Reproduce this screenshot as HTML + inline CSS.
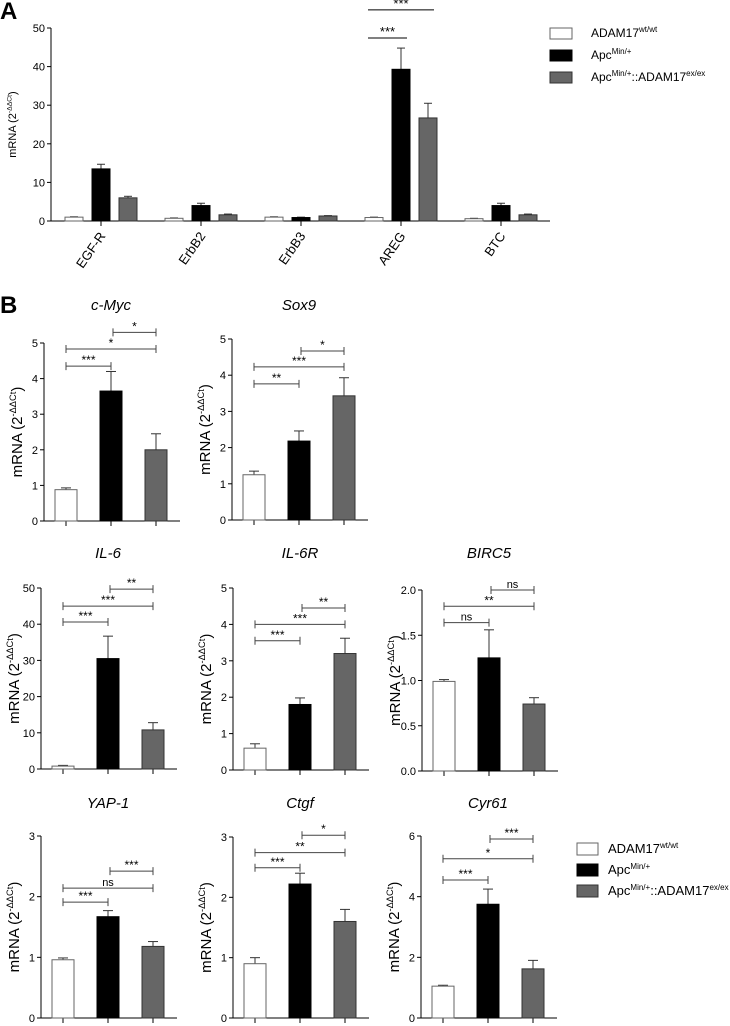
<!DOCTYPE html>
<html><head><meta charset="utf-8">
<style>
html,body{margin:0;padding:0;background:#fff;}
svg{display:block;font-family:"Liberation Sans",Arial,sans-serif;}
</style></head>
<body>
<svg id="fig" width="730" height="1026" viewBox="0 0 730 1026" xmlns="http://www.w3.org/2000/svg">
<text x="0" y="19" font-size="24" font-weight="bold">A</text>
<text x="0" y="313" font-size="24" font-weight="bold">B</text>
</svg>
<script>
// ---------- Panel A data ----------
const genesA = ["EGF-R","ErbB2","ErbB3","AREG","BTC"];
const wtA = [1.0, 0.7, 1.0, 0.9, 0.6];
const wtErrA = [0.1, 0.1, 0.1, 0.1, 0.1];
const minA = [13.5, 4.0, 0.9, 39.3, 4.0];
const minErrA = [1.2, 0.6, 0.1, 5.5, 0.6];
const koA = [6.0, 1.6, 1.3, 26.7, 1.6];
const koErrA = [0.4, 0.2, 0.1, 3.8, 0.2];
const ticksA = [0,10,20,30,40,50];
const sigA = [[3,0,1,47.4,"***"],[3,0,2,54.7,"***"]];

// ---------- Panel B data ----------
const titlesB = ["c-Myc","Sox9","IL-6","IL-6R","BIRC5","YAP-1","Ctgf","Cyr61"];
const valuesB = [[0.88,3.65,2.0],[1.25,2.18,3.43],[0.8,30.5,10.8],[0.6,1.8,3.2],[0.99,1.25,0.74],[0.96,1.67,1.18],[0.9,2.22,1.6],[1.05,3.75,1.62]];
const errorsB = [[0.05,0.55,0.45],[0.1,0.28,0.5],[0.2,6.2,2.0],[0.12,0.18,0.42],[0.02,0.31,0.07],[0.03,0.1,0.08],[0.1,0.18,0.2],[0.03,0.5,0.28]];
const ticksB = [[0,1,2,3,4,5],[0,1,2,3,4,5],[0,10,20,30,40,50],[0,1,2,3,4,5],[0,0.5,1,1.5,2],[0,1,2,3],[0,1,2,3],[0,2,4,6]];
const tickLabelsB = [["0","1","2","3","4","5"],["0","1","2","3","4","5"],["0","10","20","30","40","50"],["0","1","2","3","4","5"],["0.0","0.5","1.0","1.5","2.0"],["0","1","2","3"],["0","1","2","3"],["0","2","4","6"]];
const sigB = [
 [[0,1,4.35,"***"],[0,2,4.83,"*"],[1,2,5.3,"*"]],
 [[0,1,3.76,"**"],[0,2,4.23,"***"],[1,2,4.67,"*"]],
 [[0,1,40.6,"***"],[0,2,45,"***"],[1,2,49.7,"**"]],
 [[0,1,3.55,"***"],[0,2,4.0,"***"],[1,2,4.45,"**"]],
 [[0,1,1.64,"ns"],[0,2,1.82,"**"],[1,2,2.0,"ns"]],
 [[0,1,1.91,"***"],[0,2,2.14,"ns"],[1,2,2.42,"***"]],
 [[0,1,2.49,"***"],[0,2,2.74,"**"],[1,2,3.03,"*"]],
 [[0,1,4.55,"***"],[0,2,5.25,"*"],[1,2,5.9,"***"]]
];
const legendLabels = ["ADAM17","Apc","Apc"];
const legendSups = ["wt/wt","Min/+","Min/+"];

const NS="http://www.w3.org/2000/svg";
const svg=document.getElementById('fig');
const fills=["#ffffff","#000000","#666666"];
const strokes=["#666666","#000000","#333333"];
function mk(tag,attrs,parent){const e=document.createElementNS(NS,tag);for(const k in attrs)e.setAttribute(k,attrs[k]);(parent||svg).appendChild(e);return e;}

function yLabel(g,cx,cy,fs){
  const t=mk('text',{x:cx,y:cy,'font-size':fs,'text-anchor':'middle',transform:`rotate(-90 ${cx} ${cy})`},g);
  
  
  t.appendChild(document.createTextNode('mRNA (2'));
  const s=mk('tspan',{'font-size':fs*0.62,dy:-fs*0.4},t);s.textContent='-ΔΔCt';
  const s2=mk('tspan',{dy:fs*0.4},t);s2.textContent=')';
}

// ---------- Panel A ----------
(function(){
  const g=mk('g',{});
  
  
  const ax=51, x1=550, y0=221, yTop=28, ymax=50;
  const ys=v=>y0-(v/ymax)*(y0-yTop);
  const xc=i=>101+i*100;
  const off=[-27,0,27], bw=18;
  mk('line',{x1:ax,y1:yTop,x2:ax,y2:y0,stroke:'#000','stroke-width':1},g);
  mk('line',{x1:ax,y1:y0,x2:x1,y2:y0,stroke:'#000','stroke-width':1},g);
  ticksA.forEach(t=>{
    mk('line',{x1:ax-4,y1:ys(t),x2:ax,y2:ys(t),stroke:'#000'},g);
    const tl=mk('text',{x:ax-6,y:ys(t)+4,'font-size':11,'text-anchor':'end'},g);tl.textContent=t;
    
    
  });
  yLabel(g,16,(y0+yTop)/2,11);
  const series=[[wtA,wtErrA],[minA,minErrA],[koA,koErrA]];
  genesA.forEach((gn,i)=>{
    mk('line',{x1:xc(i),y1:y0,x2:xc(i),y2:y0+5,stroke:'#000'},g);
    const lx=xc(i)+5, ly=y0+15;
    const tl=mk('text',{x:lx,y:ly,'font-size':13,'text-anchor':'end',transform:`rotate(-55 ${lx} ${ly})`},g);tl.textContent=gn;
    
    
    series.forEach((s,k)=>{
      const v=s[0][i],e=s[1][i],cx=xc(i)+off[k];
      mk('line',{x1:cx,y1:ys(v),x2:cx,y2:ys(v+e),stroke:'#333'},g);
      mk('line',{x1:cx-4,y1:ys(v+e),x2:cx+4,y2:ys(v+e),stroke:'#333'},g);
      const r=mk('rect',{x:cx-bw/2,y:ys(v),width:bw,height:y0-ys(v),fill:fills[k],stroke:strokes[k],'stroke-width':1},g);
      
      
    });
  });
  sigA.forEach(s=>{
    const xa=xc(s[0])+off[s[1]]-6, xb=xc(s[0])+off[s[2]]+6, y=ys(s[3]);
    mk('line',{x1:xa,y1:y,x2:xb,y2:y,stroke:'#000'},g);
    const t=mk('text',{x:(xa+xb)/2,y:y-2,'font-size':13,'text-anchor':'middle'},g);t.textContent=s[4];
    
    
  });
  const lg=mk('g',{},g);
  
  
  [0,1,2].forEach(k=>{
    const y=28+k*22;
    mk('rect',{x:550,y:y,width:22,height:11,fill:fills[k],stroke:strokes[k]},lg);
    const t=mk('text',{x:591,y:y+9,'font-size':12},lg);
    
    
    t.appendChild(document.createTextNode(legendLabels[k]));
    const s=mk('tspan',{'font-size':8,dy:-5},t);s.textContent=legendSups[k];
    if(k===2){const a=mk('tspan',{dy:5},t);a.textContent='::ADAM17';const b=mk('tspan',{'font-size':8,dy:-5},t);b.textContent='ex/ex';}
  });
})();

// ---------- Panel B ----------
const layout=[[44,521,343],[232,520,339],[41,769,588],[233,770,588],[422,771,590],[41,1018,836],[233,1018,837],[421,1018,836]];
const titleY=[310,310,558,558,558,808,808,808];
titlesB.forEach((title,p)=>{
  const g=mk('g',{});
  
  
  const [ax,y0,yTop]=layout[p];
  const tk=ticksB[p], ymax=tk[tk.length-1];
  const ys=v=>y0-(v/ymax)*(y0-yTop);
  const xc=i=>ax+22+i*45;
  const bw=22;
  mk('line',{x1:ax,y1:yTop,x2:ax,y2:y0,stroke:'#000'},g);
  mk('line',{x1:ax,y1:y0,x2:ax+136,y2:y0,stroke:'#000'},g);
  tk.forEach((t,j)=>{
    mk('line',{x1:ax-4,y1:ys(t),x2:ax,y2:ys(t),stroke:'#000'},g);
    const tl=mk('text',{x:ax-6,y:ys(t)+4,'font-size':11,'text-anchor':'end'},g);tl.textContent=tickLabelsB[p][j];
    
    
  });
  yLabel(g,ax-22,(y0+yTop)/2,15);
  const tt=mk('text',{x:ax+67,y:titleY[p],'font-size':15,'font-style':'italic','text-anchor':'middle'},g);tt.textContent=title;
  
  
  valuesB[p].forEach((v,k)=>{
    const e=errorsB[p][k], cx=xc(k);
    mk('line',{x1:cx,y1:y0,x2:cx,y2:y0+5,stroke:'#000'},g);
    mk('line',{x1:cx,y1:ys(v),x2:cx,y2:ys(v+e),stroke:'#333'},g);
    mk('line',{x1:cx-5,y1:ys(v+e),x2:cx+5,y2:ys(v+e),stroke:'#333'},g);
    const r=mk('rect',{x:cx-bw/2,y:ys(v),width:bw,height:y0-ys(v),fill:fills[k],stroke:strokes[k],'stroke-width':1},g);
    
    
  });
  sigB[p].forEach(s=>{
    const xa=xc(s[0])+(s[0]===1?2:0), xb=xc(s[1]), y=ys(s[2]);
    mk('line',{x1:xa,y1:y,x2:xb,y2:y,stroke:'#444'},g);
    mk('line',{x1:xa,y1:y-4,x2:xa,y2:y+4,stroke:'#444'},g);
    mk('line',{x1:xb,y1:y-4,x2:xb,y2:y+4,stroke:'#444'},g);
    const t=mk('text',{x:(xa+xb)/2,y:y-2,'font-size':s[3]==='ns'?11:12,'text-anchor':'middle'},g);t.textContent=s[3];
    
    
  });
});
(function(){
  const lg=mk('g',{});
  
  
  [0,1,2].forEach(k=>{
    const y=843+k*21;
    mk('rect',{x:577,y:y,width:21,height:12,fill:fills[k],stroke:strokes[k]},lg);
    const t=mk('text',{x:608,y:y+10,'font-size':13},lg);
    
    
    t.appendChild(document.createTextNode(legendLabels[k]));
    const s=mk('tspan',{'font-size':8,dy:-5},t);s.textContent=legendSups[k];
    if(k===2){const a=mk('tspan',{dy:5},t);a.textContent='::ADAM17';const b=mk('tspan',{'font-size':8,dy:-5},t);b.textContent='ex/ex';}
  });
})();
</script>
</body></html>
